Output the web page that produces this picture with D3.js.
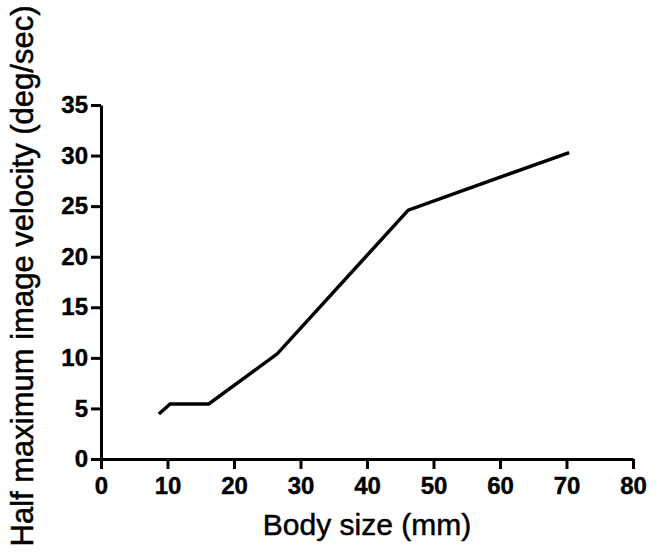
<!DOCTYPE html>
<html>
<head>
<meta charset="utf-8">
<script src="https://cdn.jsdelivr.net/npm/d3@7/dist/d3.min.js"></script>
<style>
    body { margin: 0; background: #fff; }
    svg { display: block; }
    .axis path, .axis line { stroke: #000; stroke-width: 3px; }
    .axis text { font-family: "Liberation Sans", Arial, sans-serif; font-size: 24px; font-weight: bold; fill: #000; stroke: #000; stroke-width: 0.4px; }
    .title { font-family: "Liberation Sans", Arial, sans-serif; fill: #000; stroke: #000; stroke-width: 0.5px; }
</style>
</head>
<body>
<div id="chart"></div>
<script>
// values
var bodySize = [8.7, 10.4, 16.2, 26.5, 46.2, 70.4];
var halfMaxVelocity = [4.45, 5.44, 5.44, 10.4, 24.6, 30.3];
var xTicks = [0, 10, 20, 30, 40, 50, 60, 70, 80];
var yTicks = [0, 5, 10, 15, 20, 25, 30, 35];

var width = 660, height = 555;
var margin = {left: 101, right: 27, top: 105, bottom: 96};

var svg = d3.select("#chart").append("svg")
    .attr("width", width)
    .attr("height", height);

var x = d3.scaleLinear().domain([0, 80]).range([margin.left, width - margin.right]);
var y = d3.scaleLinear().domain([0, 35]).range([height - margin.bottom, margin.top]);

svg.append("g")
    .attr("class", "axis")
    .attr("transform", "translate(0," + y(0) + ")")
    .call(d3.axisBottom(x).tickValues(xTicks).tickSize(10).tickSizeOuter(0).tickPadding(8))
    .call(function(g) { g.selectAll("text").attr("dy", "0.72em"); });

svg.append("g")
    .attr("class", "axis")
    .attr("transform", "translate(" + x(0) + ",0)")
    .call(d3.axisLeft(y).tickValues(yTicks).tickSize(10).tickSizeOuter(0).tickPadding(3));

var points = bodySize.map(function(d, i) { return [d, halfMaxVelocity[i]]; });

var line = d3.line()
    .x(function(d) { return x(d[0]); })
    .y(function(d) { return y(d[1]); });

svg.append("path")
    .datum(points)
    .attr("d", line)
    .attr("fill", "none")
    .attr("stroke", "#000")
    .attr("stroke-width", 3.5)
    .attr("stroke-linejoin", "miter");

svg.append("text")
    .attr("class", "title")
    .attr("x", (x(0) + x(80)) / 2)
    .attr("y", 535)
    .attr("text-anchor", "middle")
    .style("font-size", "30px")
    .text("Body size (mm)");

svg.append("text")
    .attr("class", "title")
    .attr("transform", "translate(33,276) rotate(-90)")
    .attr("text-anchor", "middle")
    .style("font-size", "31px")
    .text("Half maximum image velocity (deg/sec)");
</script>
</body>
</html>
